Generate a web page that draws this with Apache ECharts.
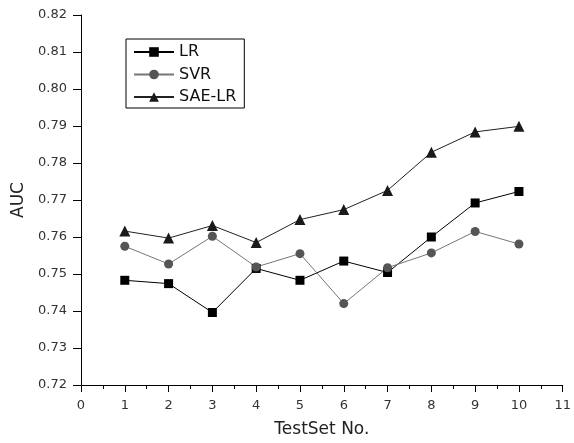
<!DOCTYPE html>
<html><head><meta charset="utf-8">
<script src="https://cdn.jsdelivr.net/npm/echarts@6/dist/echarts.min.js"></script>
<style>html,body{margin:0;padding:0;background:#fff}#c{width:574px;height:443px}</style>
</head><body><div id="c"></div>
<script>
const testSets = [1,2,3,4,5,6,7,8,9,10];
const lrValues = [0.7483,0.7474,0.7396,0.7515,0.7483,0.7535,0.7504,0.7600,0.7692,0.7723];
const svrValues = [0.7575,0.7527,0.7602,0.7519,0.7555,0.7420,0.7517,0.7557,0.7615,0.7581];
const saeValues = [0.7616,0.7597,0.7631,0.7585,0.7647,0.7674,0.7726,0.7829,0.7884,0.7899];
const seriesNames = ['LR','SVR','SAE-LR'];

const pairs = v => testSets.map((x,i)=>[x,v[i]]);
const font = 'DejaVu Sans, Arial, sans-serif';
const chart = echarts.init(document.getElementById('c'), null, {renderer:'canvas'});
chart.setOption({
  animation:false,
  backgroundColor:'#fff',
  grid:{left:81,right:5.5,top:15,bottom:56,containLabel:false},
  legend:{
    orient:'vertical', left:126, top:39,
    data:seriesNames,
    borderColor:'#000', borderWidth:1, borderRadius:0,
    padding:[5,8,3,7], itemGap:6.5, itemWidth:40, itemHeight:12,
    backgroundColor:'#fff',
    textStyle:{fontFamily:font,fontSize:16,color:'#111'}
  },
  xAxis:{
    type:'value', min:0, max:11, interval:1,
    name:'TestSet No.', nameLocation:'middle', nameGap:36,
    nameTextStyle:{fontFamily:font,fontSize:17,color:'#222'},
    axisLine:{show:true,onZero:false,lineStyle:{color:'#000',width:1}},
    axisTick:{show:true,inside:false,length:7,lineStyle:{color:'#000'}},
    minorTick:{show:true,splitNumber:2,length:4,lineStyle:{color:'#000'}},
    splitLine:{show:false},
    axisLabel:{fontFamily:font,fontSize:13,color:'#333',margin:14}
  },
  yAxis:{
    type:'value', min:0.72, max:0.82, interval:0.01,
    name:'AUC', nameLocation:'middle', nameGap:51, nameRotate:90,
    nameTextStyle:{fontFamily:font,fontSize:17,color:'#222'},
    axisLine:{show:true,lineStyle:{color:'#000',width:1}},
    axisTick:{show:true,inside:false,length:8,lineStyle:{color:'#000'}},
    splitLine:{show:false},
    axisLabel:{fontFamily:font,fontSize:13,color:'#333',margin:14,formatter:v=>v.toFixed(2)}
  },
  series:[
    {name:'LR',type:'line',data:pairs(lrValues),symbol:'rect',symbolSize:9,
     lineStyle:{color:'#000',width:1},itemStyle:{color:'#000'},color:'#000'},
    {name:'SVR',type:'line',data:pairs(svrValues),symbol:'circle',symbolSize:9,
     lineStyle:{color:'#777',width:1},itemStyle:{color:'#555'},color:'#555'},
    {name:'SAE-LR',type:'line',data:pairs(saeValues),symbol:'triangle',symbolSize:11,
     lineStyle:{color:'#222',width:1},itemStyle:{color:'#1a1a1a'},color:'#1a1a1a'}
  ]
});
</script></body></html>
